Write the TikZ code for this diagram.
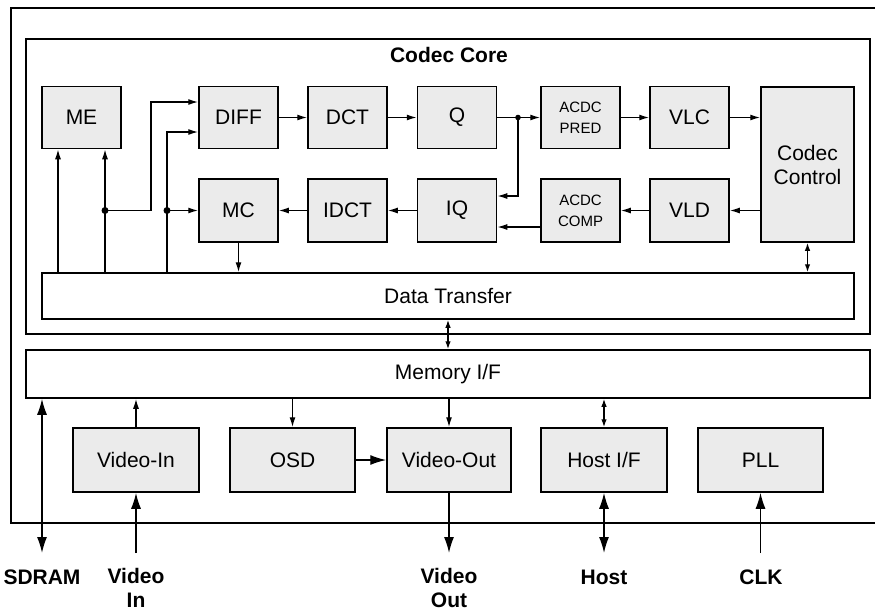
\documentclass[tikz,border=0pt]{standalone}
\usepackage{fontspec}
\setmainfont{Liberation Sans}
\usetikzlibrary{arrows.meta}
\definecolor{blockgray}{HTML}{EBEBEB}
\tikzset{ blk/.style = { rectangle % processing block
        , draw
        , line width = 1.5pt
        , fill = blockgray
        , minimum width = 79pt
        , minimum height = 62pt
        , inner sep = 0pt
        , align = center
        , font = \fontsize{21}{24}\selectfont
        }
        , bar/.style = { rectangle % bus block
        , draw
        , line width = 1.5pt
        , fill = white
        , inner sep = 0pt
        , font = \fontsize{21}{24}\selectfont
        }
        , pin/.style = { inner sep = 0pt % external signal name
        , anchor = north
        , align = center
        , font = \bfseries\fontsize{21}{24}\selectfont
        }
        }

\begin{document}
\begin{tikzpicture}[x=1pt, y=-1pt, line width=1.4pt,
        arr/.style={-{Latex[length=10pt,width=6pt]}},
        arr2/.style={{Latex[length=8pt,width=5.5pt]}-{Latex[length=8pt,width=5.5pt]}},
        big_arr/.style={-{Latex[length=16pt,width=10pt]}},
        big_arr2/.style={{Latex[length=16pt,width=10pt]}-{Latex[length=16pt,width=10pt]}}]
        \useasboundingbox (0,0) rectangle (875,611);

        % chip and codec core frames
        \draw[line width=1.5pt] (875,8) -| (11,523) -- (875,523);
        \draw[line width=1.5pt] (26,39) rectangle (870,334);
        \node[font=\bfseries\fontsize{21}{24}\selectfont] (core) at (449,55) {Codec Core};

        \node[blk] (me) at (81.5,117.5) {ME};
        \node[blk] (diff) at (238.5,117.5) {DIFF};
        \node[blk] (dct) at (347.5,117.5) {DCT};
        \node[blk] (q) at (457,117.5) {Q};
        \node[blk,font=\fontsize{15}{21}\selectfont] (pred) at (580.5,117.5) {ACDC\\PRED};
        \node[blk] (vlc) at (689.5,117.5) {VLC};
        \node[blk,minimum width=93pt,minimum height=155pt] (ctrl) at (807.5,164.5) {Codec\\Control};
        \node[blk,minimum height=63pt] (mc) at (238.5,210.5) {MC};
        \node[blk,minimum height=63pt] (idct) at (347.5,210.5) {IDCT};
        \node[blk,minimum height=63pt] (iq) at (457,210.5) {IQ};
        \node[blk,minimum height=63pt,font=\fontsize{15}{21}\selectfont] (comp) at (580.5,210.5) {ACDC\\COMP};
        \node[blk,minimum height=63pt] (vld) at (689.5,210.5) {VLD};

        \node[bar,minimum width=812pt,minimum height=46pt] (dt) at (448,296) {Data Transfer};
        \node[bar,minimum width=844pt,minimum height=48pt] (mem) at (448,374) {Memory I/F};

        \node[blk,minimum width=126pt,minimum height=64pt] (vin) at (136,460) {Video-In};
        \node[blk,minimum width=125pt,minimum height=64pt] (osd) at (292.5,460) {OSD};
        \node[blk,minimum width=124pt,minimum height=64pt] (vout) at (449,460) {Video-Out};
        \node[blk,minimum width=126pt,minimum height=64pt] (host) at (604,460) {Host I/F};
        \node[blk,minimum width=125pt,minimum height=64pt] (pll) at (760.5,460) {PLL};

        \node[pin] (sdram) at (42,569) {SDRAM};
        \node[pin] (videoin) at (136,568) {Video\\In};
        \node[pin] (videoout) at (449,568) {Video\\Out};
        \node[pin] (hostname) at (604,569) {Host};
        \node[pin] (clk) at (761,569) {CLK};

        \coordinate (mefeed) at (58,0);
        \coordinate (j1) at (105,210.5);
        \coordinate (j2) at (167,210.5);
        \coordinate (qj) at (518,117.5);
        \coordinate (sdram_pin) at (42,553);
        \coordinate (vin_pin) at (136,553);
        \coordinate (vout_pin) at (449,553);
        \coordinate (host_pin) at (604,553);
        \coordinate (clk_pin) at (760.5,553);

        % codec core data path
        \draw[arr] (diff) -- (dct);
        \draw[arr] (dct) -- (q);
        \draw[arr] (q) -- (pred);
        \draw[arr] (pred) -- (vlc);
        \draw[arr] (vlc) -- (ctrl.west |- vlc);
        \draw[arr] (ctrl.west |- vld) -- (vld);
        \draw[arr] (vld) -- (comp);
        \draw[arr] ([yshift=-16.5pt]comp.west) -- ([yshift=-16.5pt]iq.east);
        \draw[arr] (qj) |- ([yshift=14.5pt]iq.east);
        \fill (qj) circle (2.8pt);
        \draw[arr] (iq) -- (idct);
        \draw[arr] (idct) -- (mc);
        \draw[arr] (dt.north -| mefeed) -- (me.south -| mefeed);
        \draw[arr] (dt.north -| j1) -- (me.south -| j1);
        \draw[arr] (j1) -- ++(46,0) |- ([yshift=15.5pt]diff.west);
        \draw[arr] (dt.north -| j2) |- ([yshift=-14.5pt]diff.west);
        \draw[arr] (j2) -- (mc);
        \fill (j1) circle (3.5pt);
        \fill (j2) circle (3.5pt);
        \draw[arr] (mc) -- (mc |- dt.north);
        \draw[arr2] (ctrl) -- (ctrl |- dt.north);
        \draw[arr2] (dt) -- (mem);

        % peripherals
        \draw[big_arr2] (sdram_pin) -- (sdram_pin |- mem.south);
        \draw[big_arr] (vin_pin) -- (vin);
        \draw[arr] (vin) -- (vin |- mem.south);
        \draw[arr] (osd |- mem.south) -- (osd);
        \draw[big_arr] (osd) -- (vout);
        \draw[arr] (vout |- mem.south) -- (vout);
        \draw[big_arr] (vout) -- (vout_pin);
        \draw[arr2] (host) -- (host |- mem.south);
        \draw[big_arr2] (host) -- (host_pin);
        \draw[big_arr] (clk_pin) -- (pll);
\end{tikzpicture}
\end{document}
